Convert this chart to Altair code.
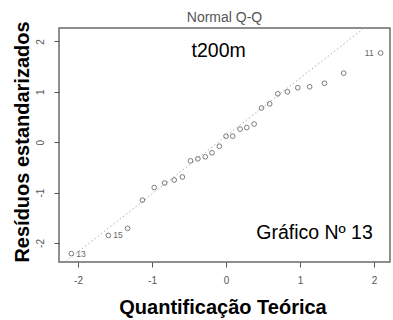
import altair as alt
import pandas as pd

# Theoretical quantiles (x) and standardized residuals (y)
teorico = [-2.09, -1.59, -1.33, -1.13, -0.97, -0.83, -0.70, -0.59, -0.48, -0.38,
           -0.28, -0.19, -0.09, 0.00, 0.09, 0.19, 0.28, 0.38, 0.48, 0.59,
           0.70, 0.83, 0.97, 1.13, 1.33, 1.59, 2.09]
residuos = [-2.21, -1.85, -1.71, -1.15, -0.90, -0.81, -0.75, -0.69, -0.37, -0.33,
            -0.29, -0.21, -0.08, 0.12, 0.12, 0.26, 0.29, 0.36, 0.68, 0.76,
            0.96, 1.00, 1.08, 1.10, 1.17, 1.37, 1.77]
rotulos = ["13", "15", "", "", "", "", "", "", "", "", "", "", "", "", "", "", "",
           "", "", "", "", "", "", "", "", "", "11"]

# reference (qq) line
linha_inclinacao = 1.149
linha_intercepto = 0.12
linha_x = [-2.5, 2.5]

ticks = [-2, -1, 0, 1, 2]
FONT = "Liberation Sans"

df = pd.DataFrame({"x": teorico, "y": residuos, "lab": rotulos})
df_line = pd.DataFrame({"x": linha_x,
                        "y": [linha_intercepto + linha_inclinacao * v for v in linha_x]})
df_left = df[(df["lab"] != "") & (df["x"] < 0)]
df_right = df[(df["lab"] != "") & (df["x"] > 0)]

xscale = alt.Scale(domain=[-2.257, 2.216], nice=False, zero=False)
yscale = alt.Scale(domain=[-2.377, 2.266], nice=False, zero=False)

xaxis = alt.Axis(values=ticks, grid=False, domain=False, tickSize=5, tickColor="#555555",
                 labelFont=FONT, labelFontSize=10, labelColor="#555555",
                 labelBaseline="alphabetic", labelPadding=16.5, labelFlush=False,
                 labelExpr="'' + datum.value",
                 title="Quantificação Teórica", titleFont=FONT, titleFontSize=20,
                 titleFontWeight="bold", titleColor="#000000", titleX=163.5, titleY=51,
                 titleBaseline="alphabetic", titleAlign="center")
yaxis = alt.Axis(values=ticks, grid=False, domain=False, tickSize=5, tickColor="#555555",
                 labelFont=FONT, labelFontSize=10, labelColor="#555555",
                 labelAngle=270, labelAlign="center", labelBaseline="alphabetic",
                 labelPadding=10.5, labelFlush=False, labelExpr="'' + datum.value",
                 title="Resíduos estandarizados", titleFont=FONT, titleFontSize=20,
                 titleFontWeight="bold", titleColor="#000000", titleAngle=270,
                 titleX=-30.5, titleY=113.5, titleBaseline="alphabetic", titleAlign="center")

line = alt.Chart(df_line).mark_line(strokeDash=[1.5, 2.5], color="#aaaaaa",
                                    strokeWidth=1, clip=True).encode(
    x=alt.X("x:Q", scale=xscale, axis=xaxis),
    y=alt.Y("y:Q", scale=yscale, axis=yaxis),
)

points = alt.Chart(df).mark_point(shape="circle", filled=False, size=22,
                                  color="#444444", strokeWidth=1).encode(
    x=alt.X("x:Q", scale=xscale),
    y=alt.Y("y:Q", scale=yscale),
)

lab_left = alt.Chart(df_left).mark_text(align="left", dx=5, baseline="middle",
                                        font=FONT, fontSize=8.5, color="#666666").encode(
    x="x:Q", y="y:Q", text="lab:N")
lab_right = alt.Chart(df_right).mark_text(align="right", dx=-7, baseline="middle",
                                          font=FONT, fontSize=8.5, color="#666666").encode(
    x="x:Q", y="y:Q", text="lab:N")

ann = pd.DataFrame({"x": [-0.10, 1.196], "y": [1.69, -1.92],
                    "t": ["t200m", "Gráfico Nº 13"]})
annot = alt.Chart(ann).mark_text(align="center", baseline="alphabetic", font=FONT,
                                 fontSize=19.5, color="#000000").encode(
    x="x:Q", y="y:Q", text="t:N")

chart = alt.layer(line, points, lab_left, lab_right, annot).properties(
    width=331, height=234,
    autosize=alt.AutoSizeParams(type="none"),
    padding={"left": 59, "top": 28, "right": 3, "bottom": 58},
    title=alt.TitleParams("Normal Q-Q", font=FONT, fontSize=14, fontWeight="normal",
                          color="#555555", anchor="middle", baseline="alphabetic",
                          frame="group", offset=5.3, dy=20),
    background="white",
).configure_view(stroke="#6a6a6a", strokeWidth=1.5)

chart.save("out.html", embed_options={"renderer": "svg", "actions": False})
